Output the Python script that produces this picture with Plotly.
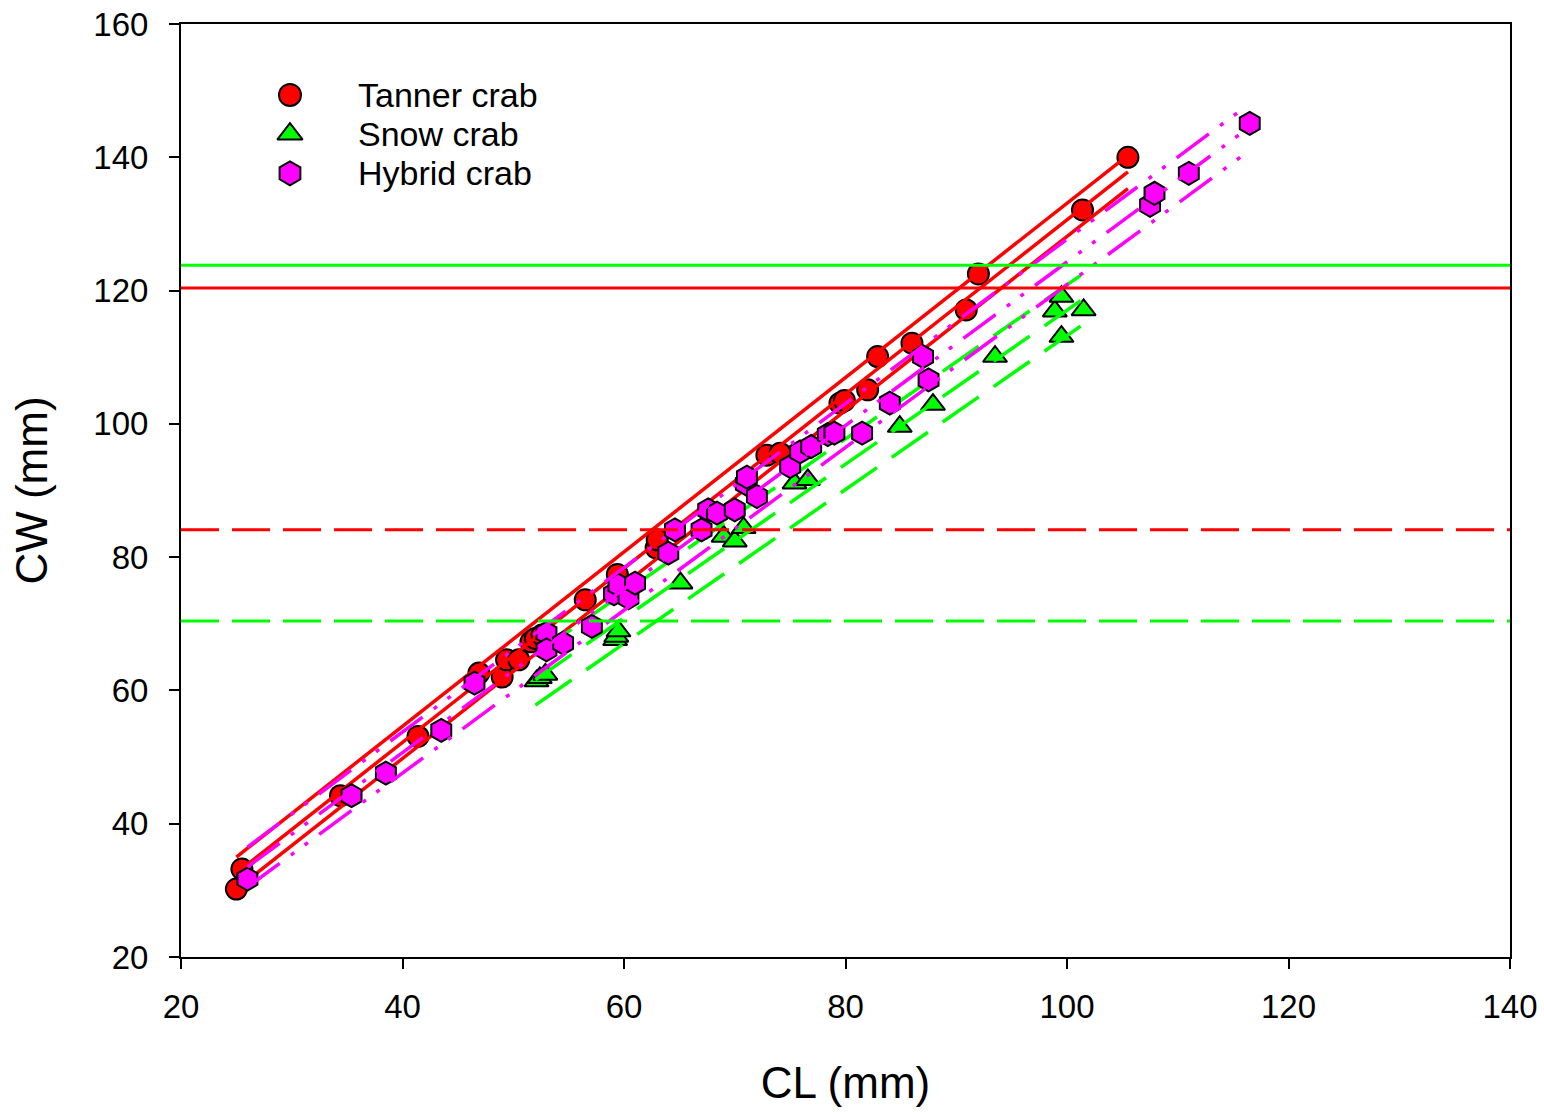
import plotly.graph_objects as go

# ---- observations: carapace length (CL) vs carapace width (CW), mm ----
tanner_cl = [25.0, 25.5, 34.4, 41.4, 46.9, 49.0, 49.4, 50.5, 51.6, 52.0, 52.6, 56.5,
             59.4, 62.9, 63.0, 72.9, 74.1, 79.5, 79.9, 82.0, 82.9, 86.0, 90.9, 92.0,
             101.4, 105.5]
tanner_cw = [30.2, 33.2, 44.2, 53.1, 62.6, 62.0, 64.6, 64.6, 67.3, 67.8, 68.3, 73.6,
             77.4, 81.4, 82.6, 95.3, 95.6, 103.1, 103.5, 105.1, 110.1, 112.1, 117.1, 122.5,
             132.1, 140.0]

snow_cl = [52.1, 52.4, 52.9, 59.2, 59.3, 59.5, 65.1, 69.0, 70.0, 70.8, 75.4, 76.6,
           84.9, 87.9, 93.5, 98.9, 99.5, 99.5, 101.5]
snow_cw = [61.4, 61.9, 62.4, 67.6, 68.1, 68.9, 76.1, 83.1, 82.4, 84.4, 91.1, 91.6,
           99.6, 102.9, 110.1, 116.9, 119.1, 113.1, 117.1]

hybrid_cl = [26.0, 35.4, 38.5, 43.5, 46.5, 53.0, 53.0, 54.5, 57.1, 59.1, 59.5, 60.4,
             61.0, 64.0, 64.6, 67.0, 67.6, 68.4, 70.0, 71.0, 71.1, 72.0, 75.0, 75.9,
             76.9, 78.4, 79.0, 81.5, 84.0, 87.0, 87.5, 107.5, 107.9, 111.0, 116.5]
hybrid_cw = [31.7, 44.2, 47.6, 54.0, 61.1, 68.6, 66.1, 67.1, 69.6, 74.5, 75.8, 73.9,
             76.1, 80.6, 84.1, 84.1, 87.1, 86.6, 87.1, 91.0, 92.0, 89.1, 93.6, 95.8,
             96.6, 98.4, 98.6, 98.6, 103.1, 110.1, 106.6, 132.8, 134.6, 137.6, 145.1]

# ---- fitted regression lines with their bands (end points) ----
tanner_fit_cl = [25.0, 105.5]
tanner_fit = [32.6, 137.8]
tanner_upper = [35.0, 140.3]
tanner_lower = [30.2, 135.3]

snow_fit_cl = [52.0, 101.6]
snow_fit = [61.6, 118.9]
snow_upper = [65.4, 122.7]
snow_lower = [57.8, 115.1]

hybrid_fit_cl = [26.0, 116.3]
hybrid_fit = [33.5, 144.3]
hybrid_upper = [36.5, 147.8]
hybrid_lower = [30.5, 140.8]

# ---- horizontal reference levels of CW ----
ref_cl = [20, 140]
tanner_ref_solid = 120.4
tanner_ref_dashed = 84.1
snow_ref_solid = 123.8
snow_ref_dashed = 70.4

# ---- legend entries ----
legend_names = ["Tanner crab", "Snow crab", "Hybrid crab"]

RED = "#FF0000"
GREEN = "#00FF00"
MAGENTA = "#FF00FF"
FONT = "Arial, Liberation Sans, sans-serif"

STYLE = {
    "Tanner crab": dict(symbol="circle", size=21, color=RED),
    "Snow crab": dict(symbol="triangle-up", size=21, color=GREEN),
    "Hybrid crab": dict(symbol="hexagon", size=23, color=MAGENTA),
}

fig = go.Figure()


def band_lines(xs, ys_list, color, dash, width):
    for ys in ys_list:
        fig.add_trace(go.Scatter(
            x=xs, y=ys, mode="lines", showlegend=False, hoverinfo="skip",
            line=dict(color=color, width=width, dash=dash),
        ))


def points(name, xs, ys):
    st = STYLE[name]
    fig.add_trace(go.Scatter(
        x=xs, y=ys, mode="markers", name=name, showlegend=False,
        marker=dict(symbol=st["symbol"], size=st["size"], color=st["color"],
                    line=dict(color="black", width=2)),
    ))


# Tanner crab
points("Tanner crab", tanner_cl, tanner_cw)
band_lines(tanner_fit_cl, [tanner_upper, tanner_fit, tanner_lower], RED, "solid", 3.5)

# Snow crab
points("Snow crab", snow_cl, snow_cw)
band_lines(snow_fit_cl, [snow_upper, snow_fit, snow_lower], GREEN, "44px,18px", 3.5)

# Hybrid crab
points("Hybrid crab", hybrid_cl, hybrid_cw)
band_lines(hybrid_fit_cl, [hybrid_upper, hybrid_fit, hybrid_lower], MAGENTA,
           "40px,14px,4px,13px,4px,14px", 3.5)

# reference levels
for level, color, dash in [
    (snow_ref_solid, GREEN, "solid"),
    (tanner_ref_solid, RED, "solid"),
    (tanner_ref_dashed, RED, "38px,13px"),
    (snow_ref_dashed, GREEN, "38px,13px"),
]:
    fig.add_trace(go.Scatter(
        x=ref_cl, y=[level, level], mode="lines", showlegend=False, hoverinfo="skip",
        line=dict(color=color, width=3, dash=dash),
    ))

# legend keys drawn on an overlay axis spanning the plot area (0..1 both ways)
key_x = 0.082
text_x = 0.132
key_y0 = 0.924
key_step = 0.042
for i, name in enumerate(legend_names):
    st = STYLE[name]
    yk = key_y0 - i * key_step
    fig.add_trace(go.Scatter(
        x=[key_x], y=[yk], xaxis="x2", yaxis="y2", mode="markers",
        showlegend=False, hoverinfo="skip",
        marker=dict(symbol=st["symbol"], size=st["size"] + 1, color=st["color"],
                    line=dict(color="black", width=2)),
    ))
    fig.add_annotation(
        x=text_x, y=yk, xref="paper", yref="paper", text=name, showarrow=False,
        xanchor="left", yanchor="middle",
        font=dict(family=FONT, size=34, color="black"),
    )

axis_common = dict(
    showgrid=False, zeroline=False, showline=True, linecolor="black", linewidth=2,
    mirror=True, ticks="outside", ticklen=10, tickwidth=2, tickcolor="black",
    tickfont=dict(family=FONT, size=33, color="black"), automargin=False,
)

fig.update_xaxes(
    range=[20, 140], tickvals=[20, 40, 60, 80, 100, 120, 140], ticklabelstandoff=9,
    title=dict(text="CL (mm)", font=dict(family=FONT, size=44, color="black"), standoff=44),
    **axis_common,
)
fig.update_yaxes(
    range=[20, 160], tickvals=[20, 40, 60, 80, 100, 120, 140, 160], ticklabelstandoff=14,
    title=dict(text="CW (mm)", font=dict(family=FONT, size=44, color="black"), standoff=32),
    **axis_common,
)

fig.update_layout(
    width=1544, height=1112,
    margin=dict(l=181, r=34, t=24, b=155),
    paper_bgcolor="white", plot_bgcolor="white",
    font=dict(family=FONT, color="black"),
    showlegend=False,
    xaxis2=dict(overlaying="x", range=[0, 1], visible=False, fixedrange=True),
    yaxis2=dict(overlaying="y", range=[0, 1], visible=False, fixedrange=True),
)

fig.write_html("out.html")
